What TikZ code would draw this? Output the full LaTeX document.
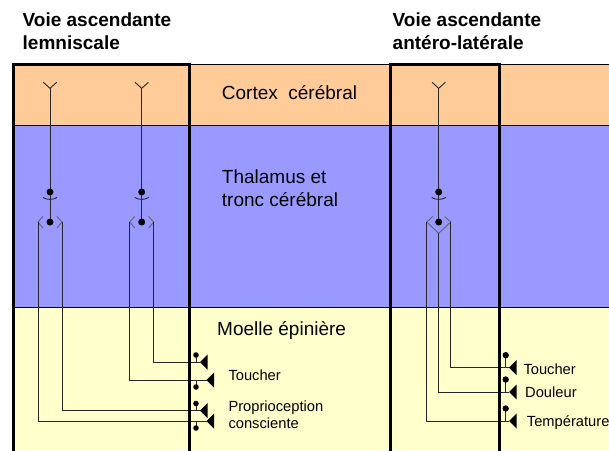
\documentclass[tikz,border=0pt]{standalone}
\usepackage{fontspec}
\setmainfont{Liberation Sans}
\usetikzlibrary{calc}
\definecolor{cortexcol}{RGB}{255,204,153}
\definecolor{thalcol}{RGB}{153,153,255}
\definecolor{moellecol}{RGB}{255,255,204}
\tikzset{
  nerf/.style={line width=0.9pt, draw=black!85},
  fourche/.style={line width=0.9pt, draw=black!60},
  voie/.style={line width=3pt, draw=black},
  titre/.style={anchor=base west, inner sep=0pt, font=\fontsize{19}{22}\selectfont\bfseries},
  zone/.style={anchor=base west, inner sep=0pt, font=\fontsize{19}{22}\selectfont},
  recep/.style={anchor=base west, inner sep=0pt, font=\fontsize{14.7}{17}\selectfont},
}
\begin{document}
\begin{tikzpicture}[x=1pt,y=-1pt]
\useasboundingbox (0,0) rectangle (609,450);
% zones
\fill[cortexcol] (13,64) rectangle (609,125.5);
\fill[thalcol] (13,125.5) rectangle (609,307);
\fill[moellecol] (13,307) rectangle (609,450);
\draw[line width=1pt] (13,64) -- (609,64) (13,125.5) -- (609,125.5) (13,307) -- (609,307);
% titles and zone names
\node[titre] (voieL1) at (22.5,26) {Voie ascendante};
\node[titre] (voieL2) at (22.5,49.3) {lemniscale};
\node[titre] (voieR1) at (392.5,26) {Voie ascendante};
\node[titre] (voieR2) at (392.5,49.3) {antéro-latérale};
\node[zone] (cortex) at (221.7,99.3) {Cortex\ \ cérébral};
\node[zone] (thal1) at (221.7,183.3) {Thalamus et};
\node[zone] (thal2) at (221.7,206.7) {tronc cérébral};
\node[zone] (moelle) at (217,335) {Moelle épinière};
\node[recep] (toucherL) at (228.3,380) {Toucher};
\node[recep] (proprio1) at (228.3,411.7) {Proprioception};
\node[recep] (proprio2) at (228.3,428.3) {consciente};
\node[recep] (toucherR) at (523.3,374.3) {Toucher};
\node[recep] (douleur) at (525,397.7) {Douleur};
\node[recep] (temp) at (526.7,426) {Température};
% neurons, upper part
\foreach \cx/\n in {50/a, 141.7/b, 438.7/c} {
  \draw[nerf] (\cx-6.7,82.3) -- (\cx,88.3) -- (\cx+6.7,82.3);
  \draw[nerf] (\cx,88.3) -- (\cx,222);
  \draw[nerf] (\cx-7,197.5) .. controls (\cx-3,200) and (\cx+3,200) .. (\cx+7,197.5);
  \fill (\cx,192) circle (3.5pt) (\cx,222) circle (3.5pt);
  \coordinate (\n-l) at (\cx-12,222);
  \coordinate (\n-r) at (\cx+12,222);
}
\foreach \n in {a,b} {
  \draw[fourche] ($(\n-l)+(5,-5.5)$) -- (\n-l) -- ($(\n-l)+(5,6)$);
  \draw[fourche] ($(\n-r)+(-5,-5.5)$) -- (\n-r) -- ($(\n-r)+(-5,6)$);
}
\coordinate (c-m) at (438.7,233.3);
\draw[fourche] ($(c-l)+(6,-5.5)$) -- (c-l) -- (c-m) -- (c-r) -- ($(c-r)+(-6,-5.5)$);
% receptor tips
\coordinate (tL1) at (200,362);
\coordinate (tL2) at (206.5,380);
\coordinate (tL3) at (200,410.5);
\coordinate (tL4) at (206.5,421);
\coordinate (tR1) at (509,367.7);
\coordinate (tR2) at (509,392);
\coordinate (tR3) at (509,421);
% ascending fibres
\draw[nerf] (b-r) |- (tL1);
\draw[nerf] (b-l) |- (tL2);
\draw[nerf] (a-r) |- (tL3);
\draw[nerf] (a-l) |- (tL4);
\draw[nerf] (c-r) |- (tR1);
\draw[nerf] (c-m) |- (tR2);
\draw[nerf] (c-l) |- (tR3);
% pathway boxes
\draw[voie] (13.5,452) -- (13.5,64) -- (189.5,64) -- (189.5,452);
\draw[voie] (390,452) -- (390,64) -- (499,64) -- (499,452);
% receptors
\foreach \y/\s in {362/-1, 380/1, 410.5/-1, 421/1} {
  \draw[nerf] (196,\y) -- (196,\y+7*\s);
  \fill (196,\y+7*\s) circle (2.8pt);
}
\foreach \y in {367.7, 392, 421} {
  \draw[nerf] (505.7,\y) -- (505.7,\y-12.5);
  \fill (505.7,\y-12.5) circle (3.2pt);
}
\foreach \t in {tL1,tL2,tL3,tL4,tR1,tR2,tR3}
  \fill (\t) -- ++(7.5,-7.5) -- ++(0,15) -- cycle;
\end{tikzpicture}
\end{document}
